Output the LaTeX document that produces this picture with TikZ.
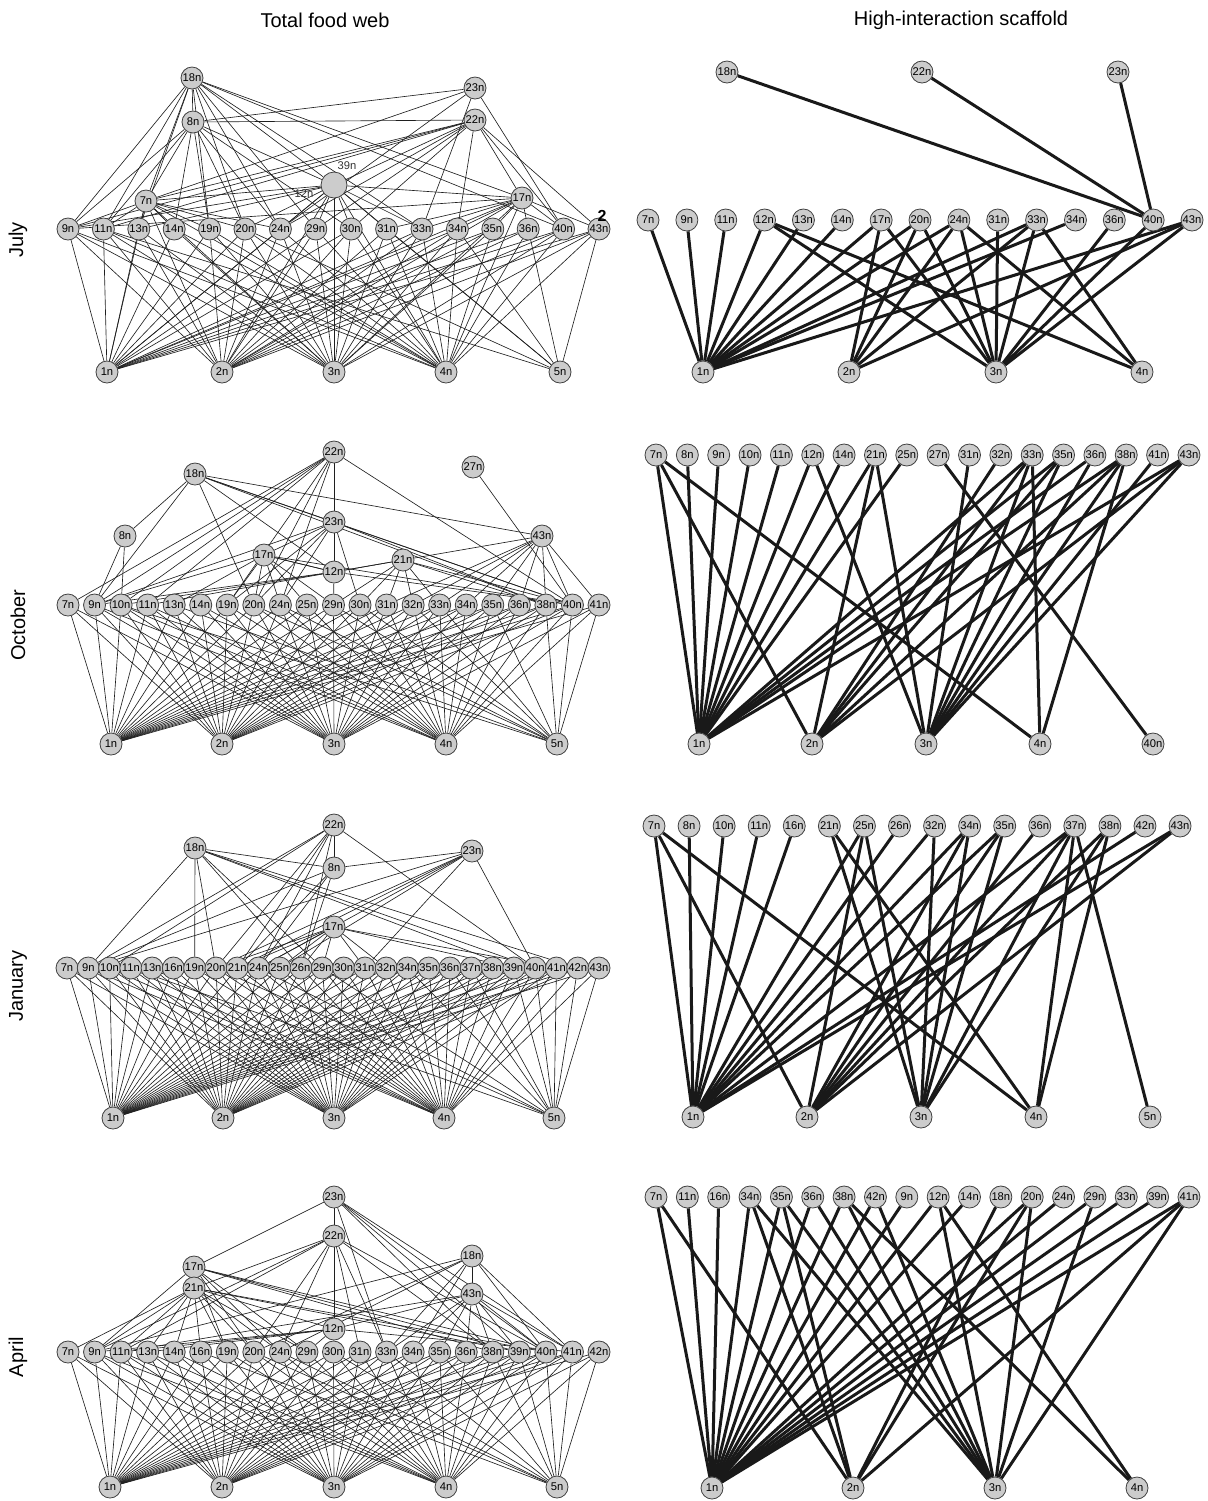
\documentclass[tikz,border=0pt]{standalone}
\usepackage{fontspec}
\setmainfont{Liberation Sans}
\pgfdeclarelayer{edges}
\pgfsetlayers{edges,main}
\tikzset{
  nd/.style={circle, draw=black!75, line width=0.4pt, fill=black!20, inner sep=0pt, minimum size=11pt, font=\fontsize{5.6}{6}\selectfont},
  bignd/.style={nd, minimum size=13pt},
  nlabel/.style={inner sep=0pt, font=\fontsize{5.6}{6}\selectfont, text=black!80},
  web/.style={line width=0.32pt, draw=black!88},
  scaf/.style={line width=1.5pt, draw=black!90},
  ttl/.style={inner sep=0pt, font=\fontsize{10}{12}\selectfont},
}
\begin{document}
\begin{tikzpicture}[x=0.5pt, y=-0.5pt]
\useasboundingbox (0,0) rectangle (1207,1501);

% ---------- titles and row labels ----------
\node[ttl] (t1) at (325,20) {Total food web};
\node[ttl] (t2) at (961,20) {High-interaction scaffold};
\node[ttl, rotate=90] (r1) at (18,240) {July};
\node[ttl, rotate=90] (r2) at (18,625) {October};
\node[ttl, rotate=90] (r3) at (18,986) {January};
\node[ttl, rotate=90] (r4) at (18,1357) {April};

% ================= JULY total =================
\node[nd] (J18) at (192,78) {18n};
\node[nd] (J8) at (193,122) {8n};
\node[nd] (J23) at (475,88) {23n};
\node[nd] (J22) at (475,120) {22n};
\node[bignd] (JB) at (334,185) {};
\node[nlabel] (JBa) at (347,166) {39n};
\node[nlabel] (JBb) at (304,194) {12n};
\node[nd] (J7) at (146,201) {7n};
\node[nd] (J17) at (522,198) {17n};
\foreach \n [count=\i from 0] in {9,11,13,14,19,20,24,29,30,31,33,34,35,36,40,43}
  \node[nd] (J\n) at ({68+35.4*\i},229) {\n n};
\foreach \n/\x in {1/107,2/222,3/334,4/446,5/560}
  \node[nd] (J\n) at (\x,372) {\n n};
\node[inner sep=0pt, font=\bfseries\fontsize{8}{8}\selectfont] (Jglyph) at (602,216) {2};
\begin{pgfonlayer}{edges}
\foreach \a/\bs in {9/{1,2,3,4},11/{1,2,3,4,5},13/{1,2,3},14/{1,3,4},19/{1,2,3,4},20/{1,2,3,4,5},24/{1,2,3,4},29/{1,2,3,4},30/{1,2,3,4},31/{2,3,4,5},33/{1,2,3,4},34/{1,2,3,4,5},35/{1,2,3,4},36/{1,2,4,5},40/{1,2,3,4},43/{1,2,3,4,5},7/{1,2,3,4},17/{1,2,3,4},B/{1,2,3,4,5},
  18/{8,9,7,11,19,20,24,29,33,B,17,40,13},8/{22,23,9,7,11,19,20,24,30,B,14},23/{7,40,24,33},22/{7,9,B,24,29,30,34,40,43,17,11},B/{7,9,17,24,29,30,31,33,13,20},7/{9,11,14,19,20,13,24},17/{33,34,35,36,40,43,31,9}}
  {\foreach \b in \bs {\draw[web] (J\a) -- (J\b);}}
\end{pgfonlayer}

% ================= JULY scaffold =================
\node[nd] (JS18) at (727,72) {18n};
\node[nd] (JS22) at (922,72) {22n};
\node[nd] (JS23) at (1118,72) {23n};
\foreach \n [count=\i from 0] in {7,9,11,12,13,14,17,20,24,31,33,34,36,40,43}
  \node[nd] (JS\n) at ({648+38.86*\i},220) {\n n};
\foreach \n/\x in {1/703,2/849,3/996,4/1142}
  \node[nd] (JS\n) at (\x,372) {\n n};
\begin{pgfonlayer}{edges}
\foreach \a/\b in {18/40,22/40,23/40,7/1,9/1,11/1,12/1,13/1,14/1,12/3,12/4,17/1,17/2,17/3,20/1,20/2,20/3,24/1,24/2,24/3,24/4,31/3,33/1,33/2,33/3,33/4,34/1,36/3,40/3,43/1,43/2,43/3}
  \draw[scaf] (JS\a) -- (JS\b);
\end{pgfonlayer}

% ================= OCTOBER total =================
\node[nd] (O22) at (334,452) {22n};
\node[nd] (O18) at (195,474) {18n};
\node[nd] (O27) at (473,467) {27n};
\node[nd] (O23) at (334,522) {23n};
\node[nd] (O8) at (125,536) {8n};
\node[nd] (O43) at (542,536) {43n};
\node[nd] (O17) at (264,555) {17n};
\node[nd] (O21) at (403,560) {21n};
\node[nd] (O12) at (334,572) {12n};
\foreach \n [count=\i from 0] in {7,9,10,11,13,14,19,20,24,25,29,30,31,32,33,34,35,36,38,40,41}
  \node[nd] (O\n) at ({68+26.55*\i},605) {\n n};
\foreach \n/\x in {1/111,2/222,3/334,4/446,5/557}
  \node[nd] (O\n) at (\x,744) {\n n};
\begin{pgfonlayer}{edges}
\foreach \a/\bs in {7/{1,2,3},9/{1,2,3,4},10/{1,2,3,4,5},11/{1,2,3,4},13/{1,2,3,5},14/{1,2,3,4},19/{1,2,3,4},20/{1,2,3,4,5},24/{1,2,3,4,5},25/{1,2,3,4},29/{1,2,3,4,5},30/{1,2,3,4,5},31/{1,2,3,4},32/{1,2,3,4,5},33/{1,2,3,4,5},34/{1,2,3,4},35/{1,2,3,4,5},36/{1,2,3,4},38/{1,2,3,4,5},40/{1,2,3,4,5},41/{1,3,4,5},
  22/{9,10,11,7,20,24,23,40,19},18/{8,9,20,23,43,12,38,40},27/{40},23/{17,20,24,12,40,38,30,19,9},12/{29,10,9,11,21,17,40},8/{9,10},43/{21,32,33,34,35,36,40,41,38,31},17/{9,19,20,24,25,12,40,13,29},21/{12,30,31,32,33,38,40,29}}
  {\foreach \b in \bs {\draw[web] (O\a) -- (O\b);}}
\end{pgfonlayer}

% ================= OCTOBER scaffold =================
\foreach \n [count=\i from 0] in {7,8,9,10,11,12,14,21,25,27,31,32,33,35,36,38,41,43}
  \node[nd] (OS\n) at ({656+31.35*\i},455) {\n n};
\foreach \n/\x in {1/699,2/812,3/926,4/1040,40/1153}
  \node[nd] (OS\n) at (\x,744) {\n n};
\begin{pgfonlayer}{edges}
\foreach \a/\b in {7/1,7/2,7/4,8/1,9/1,10/1,11/1,12/1,12/3,14/1,21/1,21/2,21/3,25/1,27/40,31/3,32/2,33/1,33/2,33/3,33/4,35/1,35/3,35/2,36/1,36/3,38/1,38/2,38/3,38/4,41/3,43/1,43/2,43/3}
  \draw[scaf] (OS\a) -- (OS\b);
\end{pgfonlayer}

% ================= JANUARY total =================
\node[nd] (N22) at (334,825) {22n};
\node[nd] (N18) at (195,848) {18n};
\node[nd] (N23) at (472,851) {23n};
\node[nd] (N8) at (334,868) {8n};
\node[nd] (N17) at (334,927) {17n};
\foreach \n [count=\i from 0] in {7,9,10,11,13,16,19,20,21,24,25,26,29,30,31,32,34,35,36,37,38,39,40,41,42,43}
  \node[nd] (N\n) at ({67+21.28*\i},968) {\n n};
\foreach \n/\x in {1/113,2/223,3/334,4/444,5/554}
  \node[nd] (N\n) at (\x,1118) {\n n};
\begin{pgfonlayer}{edges}
\foreach \a/\bs in {7/{1,2,3},9/{1,2,3,4},10/{1,2,3,4},11/{1,2,3,4,5},13/{1,2,3,4},16/{1,2,3},19/{1,2,3,4},20/{1,2,3,4,5},21/{1,2,3,4},24/{1,2,3,4,5},25/{1,2,3,4},26/{1,2,3,4},29/{1,2,3,4,5},30/{1,2,3,4},31/{1,2,3,4},32/{1,2,3,4},34/{1,2,3,4,5},35/{1,2,3,4},36/{1,2,3,4,5},37/{1,2,3,4,5},38/{1,2,3,4},39/{1,2,3,4,5},40/{1,2,3,4,5},41/{1,2,3,4,5},42/{1,2,4,5},43/{1,4,5},
  22/{8,9,20,21,24,26,40,10},18/{8,9,19,20,26,39,40,42,29},23/{8,20,21,24,31,40,9,25},8/{9,24,26,21},17/{20,21,24,26,29,31,32,39,41,25}}
  {\foreach \b in \bs {\draw[web] (N\a) -- (N\b);}}
\end{pgfonlayer}

% ================= JANUARY scaffold =================
\foreach \n [count=\i from 0] in {7,8,10,11,16,21,25,26,32,34,35,36,37,38,42,43}
  \node[nd] (NS\n) at ({654+35.07*\i},826) {\n n};
\foreach \n/\x in {1/693,2/807,3/921,4/1036,5/1150}
  \node[nd] (NS\n) at (\x,1117) {\n n};
\begin{pgfonlayer}{edges}
\foreach \a/\b in {7/1,7/2,7/4,8/1,10/1,11/1,16/1,21/3,21/4,25/1,25/2,25/3,26/1,32/1,32/3,34/1,34/2,34/3,35/1,35/2,35/3,36/2,37/1,37/2,37/3,37/4,37/5,38/2,38/3,38/4,42/1,43/1,43/2}
  \draw[scaf] (NS\a) -- (NS\b);
\end{pgfonlayer}

% ================= APRIL total =================
\node[nd] (A23) at (334,1197) {23n};
\node[nd] (A22) at (334,1236) {22n};
\node[nd] (A18) at (472,1256) {18n};
\node[nd] (A17) at (194,1267) {17n};
\node[nd] (A21) at (194,1288) {21n};
\node[nd] (A43) at (472,1294) {43n};
\node[nd] (A12) at (334,1329) {12n};
\foreach \n [count=\i from 0] in {7,9,11,13,14,16,19,20,24,29,30,31,33,34,35,36,38,39,40,41,42}
  \node[nd] (A\n) at ({68+26.55*\i},1352) {\n n};
\foreach \n/\x in {1/110,2/222,3/334,4/446,5/557}
  \node[nd] (A\n) at (\x,1487) {\n n};
\begin{pgfonlayer}{edges}
\foreach \a/\bs in {7/{1,2,3},9/{1,2,3,4},11/{1,2,3,4},13/{1,2,3,4},14/{1,2,3,4},16/{1,2,3,5},19/{1,2,3,4},20/{1,2,3,4,5},24/{1,2,3,4,5},29/{1,2,3,4},30/{1,2,3,4,5},31/{1,2,3,4},33/{1,2,3,4,5},34/{1,2,3,4},35/{1,2,3,4,5},36/{1,2,3,4},38/{1,2,3,4,5},39/{1,2,3,4,5},40/{1,2,3,4,5},41/{1,2,3,4,5},42/{1,3,4,5},
  23/{17,12,33,40,39,41,38},22/{21,20,24,12,31,33,38,40,9,11},18/{43,9,20,24,33,34,41,40},17/{9,21,38,39,40,19,20,24,29},21/{7,9,11,13,14,16,19,20,24,29,39,40,12},43/{36,34,35,38,40,12,41,11,33,39},12/{30,29,9,11,13,41}}
  {\foreach \b in \bs {\draw[web] (A\a) -- (A\b);}}
\end{pgfonlayer}

% ================= APRIL scaffold =================
\foreach \n [count=\i from 0] in {7,11,16,34,35,36,38,42,9,12,14,18,20,24,29,33,39,41}
  \node[nd] (AS\n) at ({656+31.35*\i},1197) {\n n};
\foreach \n/\x in {1/712,2/853,3/995,4/1137}
  \node[nd] (AS\n) at (\x,1488) {\n n};
\begin{pgfonlayer}{edges}
\foreach \a/\b in {7/1,7/2,11/1,16/1,34/1,34/2,34/3,35/1,35/2,35/3,36/1,36/3,38/1,38/3,38/4,42/1,42/3,9/1,12/1,12/3,12/4,14/1,18/2,20/1,20/2,20/3,24/1,29/1,29/3,33/1,39/1,41/1,41/2,41/3}
  \draw[scaf] (AS\a) -- (AS\b);
\end{pgfonlayer}
\end{tikzpicture}
\end{document}
